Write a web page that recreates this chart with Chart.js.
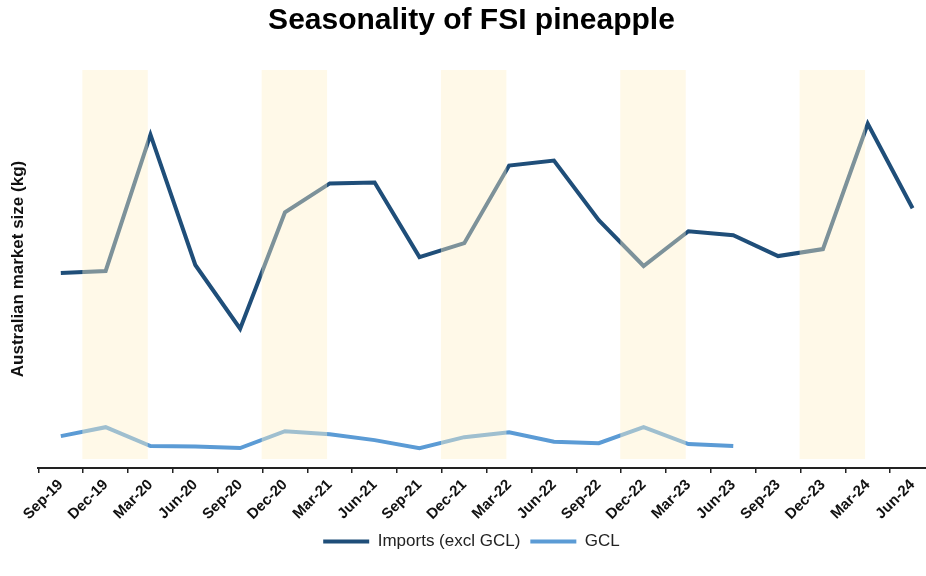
<!DOCTYPE html>
<html>
<head>
<meta charset="utf-8">
<script src="https://cdn.jsdelivr.net/npm/chart.js@4"></script>
<style>
  html, body { margin: 0; padding: 0; background: #fff; overflow: hidden; }
  #wrap { width: 946px; height: 576px; }
</style>
</head>
<body>
<div id="wrap"><canvas id="myChart" width="946" height="576"></canvas></div>
<script>
const quarters = ['Sep-19', 'Dec-19', 'Mar-20', 'Jun-20', 'Sep-20', 'Dec-20', 'Mar-21', 'Jun-21',
    'Sep-21', 'Dec-21', 'Mar-22', 'Jun-22', 'Sep-22', 'Dec-22', 'Mar-23', 'Jun-23',
    'Sep-23', 'Dec-23', 'Mar-24', 'Jun-24'];

const imports = [196, 198, 335, 204, 140, 257, 286, 287, 212, 226, 304, 309, 249, 203, 238, 234,
    213, 220, 346, 261];

const gcl = [32, 41, 22, 21.5, 20, 37, 34, 28, 20, 31, 36, 26.5, 25, 41, 24, 22,
    null, null, null, null];

// summer season shading: Dec quarter through to Mar quarter
const seasonStart = ['Dec-19', 'Dec-20', 'Dec-21', 'Dec-22', 'Dec-23'];
const seasonEnd = ['Mar-20', 'Mar-21', 'Mar-22', 'Mar-23', 'Mar-24'];
const bandLow = 9;
const yMax = 400;

const fontFamily = '"Liberation Sans", Arial, sans-serif';

const seasonBands = {
    id: 'seasonBands',
    afterDatasetsDraw(chart) {
        const ctx = chart.ctx;
        const x = chart.scales.x;
        const y = chart.scales.y;
        const w = x.getPixelForValue(1) - x.getPixelForValue(0);
        const top = y.getPixelForValue(yMax);
        const bottom = y.getPixelForValue(bandLow);
        ctx.save();
        ctx.fillStyle = 'rgba(255, 240, 200, 0.42)';
        seasonStart.forEach((s, i) => {
            const left = x.getPixelForValue(quarters.indexOf(s)) - 0.52 * w;
            const right = x.getPixelForValue(quarters.indexOf(seasonEnd[i])) - 0.06 * w;
            ctx.fillRect(left, top, right - left, bottom - top);
        });
        ctx.restore();
    }
};

const data = {
    labels: quarters,
    datasets: [{
        label: 'Imports (excl GCL)',
        data: imports,
        borderColor: '#1F4E79',
        backgroundColor: '#1F4E79',
        borderWidth: 4,
        pointRadius: 0,
        tension: 0
    }, {
        label: 'GCL',
        data: gcl,
        borderColor: '#5B9BD5',
        backgroundColor: '#5B9BD5',
        borderWidth: 4,
        pointRadius: 0,
        tension: 0,
        spanGaps: false
    }]
};

const config = {
    type: 'line',
    data: data,
    plugins: [seasonBands],
    options: {
        responsive: false,
        animation: false,
        layout: {
            padding: { left: 8, right: 11, top: 0, bottom: 16 }
        },
        scales: {
            x: {
                offset: true,
                grid: {
                    offset: true,
                    drawOnChartArea: false,
                    drawTicks: true,
                    tickLength: 5,
                    color: '#222',
                    lineWidth: 1.5
                },
                border: { display: true, color: '#222', width: 2 },
                ticks: {
                    autoSkip: false,
                    maxRotation: 45,
                    minRotation: 45,
                    padding: 3,
                    color: '#111',
                    font: { family: fontFamily, size: 15, weight: 'bold' }
                },
                afterFit: (scale) => { scale.height = 55; }
            },
            y: {
                min: 0,
                max: yMax,
                grid: { display: false, drawTicks: false },
                border: { display: false },
                ticks: { display: false },
                title: {
                    display: true,
                    text: 'Australian market size (kg)',
                    color: '#111',
                    padding: { top: 0, bottom: 10 },
                    font: { family: fontFamily, size: 17, weight: 'bold' }
                }
            }
        },
        plugins: {
            title: {
                display: true,
                text: 'Seasonality of FSI pineapple',
                color: '#000',
                font: { family: fontFamily, size: 30, weight: 'bold' },
                padding: { top: 3, bottom: 31 }
            },
            legend: {
                position: 'bottom',
                labels: {
                    usePointStyle: true,
                    pointStyle: 'line',
                    pointStyleWidth: 46,
                    padding: 10,
                    color: '#222',
                    font: { family: fontFamily, size: 17 }
                }
            },
            tooltip: { enabled: false }
        }
    }
};

var myChart = new Chart(
    document.getElementById('myChart'),
    config
);
</script>
</body>
</html>
